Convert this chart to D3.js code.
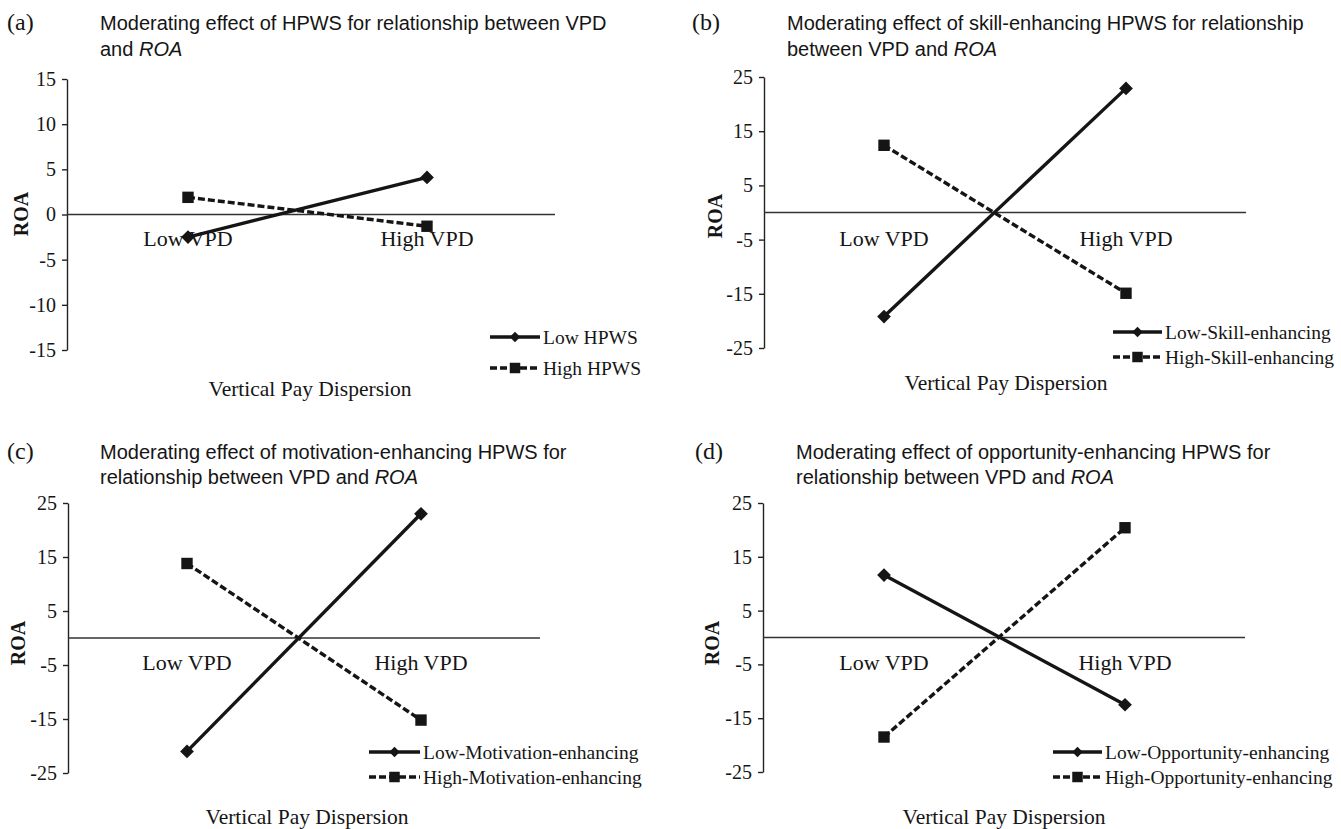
<!DOCTYPE html>
<html><head><meta charset="utf-8">
<script src="https://cdn.jsdelivr.net/npm/d3@7"></script>
<style>
html,body{margin:0;padding:0;background:#fff;}
svg{display:block;}
</style>
</head><body>
<svg id="chart" width="1341" height="829"></svg>
<script>
// ---- data ----
const categories = ["Low VPD", "High VPD"];
const ticksA = [-15, -10, -5, 0, 5, 10, 15];
const ticksBCD = [-25, -15, -5, 5, 15, 25];

const lowHPWS = [-2.5, 4.1];
const highHPWS = [1.9, -1.3];
const lowSkill = [-19.2, 22.9];
const highSkill = [12.4, -14.9];
const lowMotivation = [-21.0, 23.0];
const highMotivation = [13.8, -15.2];
const lowOpportunity = [11.6, -12.5];
const highOpportunity = [-18.5, 20.4];

const panelLetters = ["(a)", "(b)", "(c)", "(d)"];
const titleLine1 = [
  "Moderating effect of HPWS for relationship between VPD",
  "Moderating effect of skill-enhancing HPWS for relationship",
  "Moderating effect of motivation-enhancing HPWS for",
  "Moderating effect of opportunity-enhancing HPWS for"
];
const titleLine2 = ["and ", "between VPD and ", "relationship between VPD and ", "relationship between VPD and "];
const legendLow = ["Low HPWS", "Low-Skill-enhancing", "Low-Motivation-enhancing", "Low-Opportunity-enhancing"];
const legendHigh = ["High HPWS", "High-Skill-enhancing", "High-Motivation-enhancing", "High-Opportunity-enhancing"];

// ---- layout ----
const panels = [
  {letterX:7, titleX:100, titleY:30, lineGap:26, axisX:67, yTop:79, yBot:350, domain:[-15,15], ticks:ticksA,
   xLow:188, xHigh:427, zeroEnd:555, catY:246, legX1:490, legX2:540, legY:[337,368], vpdX:310, vpdY:396, roaX:21, roaY:214,
   low:lowHPWS, high:highHPWS},
  {letterX:692, titleX:787, titleY:30, lineGap:26, axisX:764, yTop:77, yBot:348, domain:[-25,25], ticks:ticksBCD,
   xLow:884, xHigh:1126, zeroEnd:1246, catY:246, legX1:1113, legX2:1162, legY:[332,357], vpdX:1006, vpdY:390, roaX:715, roaY:216,
   low:lowSkill, high:highSkill},
  {letterX:7, titleX:100, titleY:459, lineGap:25, axisX:68, yTop:503, yBot:773, domain:[-25,25], ticks:ticksBCD,
   xLow:187, xHigh:421, zeroEnd:540, catY:670, legX1:369, legX2:420, legY:[752,777], vpdX:307, vpdY:824, roaX:18, roaY:643,
   low:lowMotivation, high:highMotivation},
  {letterX:695, titleX:796, titleY:459, lineGap:25, axisX:763, yTop:503, yBot:772, domain:[-25,25], ticks:ticksBCD,
   xLow:884, xHigh:1125, zeroEnd:1245, catY:670, legX1:1053, legX2:1102, legY:[752,777], vpdX:1004, vpdY:824, roaX:712, roaY:643,
   low:lowOpportunity, high:highOpportunity}
];

const svg = d3.select("#chart");
const serif = "'Liberation Serif','Times New Roman',serif";
const sans = "'Liberation Sans',Arial,sans-serif";
const diamond = d3.symbol().type(d3.symbolDiamond2).size(120);
const square = d3.symbol().type(d3.symbolSquare).size(130);
const diamondSmall = d3.symbol().type(d3.symbolDiamond2).size(70);
const squareSmall = d3.symbol().type(d3.symbolSquare).size(110);
const ink = "#151515";

panels.forEach((p, i) => {
  const g = svg.append("g");
  const y = d3.scaleLinear().domain(p.domain).range([p.yBot, p.yTop]);
  const x = d3.scalePoint().domain(categories).range([p.xLow, p.xHigh]);

  // panel letter & title
  g.append("text").attr("x", p.letterX).attr("y", p.titleY)
    .attr("font-family", serif).attr("font-size", 24).attr("fill", ink).text(panelLetters[i]);
  g.append("text").attr("x", p.titleX).attr("y", p.titleY)
    .attr("font-family", sans).attr("font-size", 20).attr("fill", ink).text(titleLine1[i]);
  const t2 = g.append("text").attr("x", p.titleX).attr("y", p.titleY + p.lineGap)
    .attr("font-family", sans).attr("font-size", 20).attr("fill", ink);
  t2.append("tspan").text(titleLine2[i]);
  t2.append("tspan").attr("font-style", "italic").text("ROA");

  // y axis
  const axis = d3.axisLeft(y).tickValues(p.ticks).tickSize(5).tickPadding(6).tickSizeOuter(0)
    .tickFormat(d => d);
  const ag = g.append("g").attr("transform", `translate(${p.axisX},0)`).call(axis);
  ag.select(".domain").attr("stroke", "#222").attr("stroke-width", 1.4);
  ag.selectAll(".tick line").attr("stroke", "#222").attr("stroke-width", 1.4);
  ag.selectAll(".tick text").attr("font-family", serif).attr("font-size", 20).attr("fill", ink);

  // zero line
  g.append("line").attr("x1", p.axisX).attr("x2", p.zeroEnd).attr("y1", y(0)).attr("y2", y(0))
    .attr("stroke", "#333").attr("stroke-width", 1.4);

  // category labels
  categories.forEach(c => {
    g.append("text").attr("x", x(c)).attr("y", p.catY).attr("text-anchor", "middle")
      .attr("font-family", serif).attr("font-size", 22).attr("fill", ink).text(c);
  });

  // lines
  const line = d3.line().x((d, k) => x(categories[k])).y(d => y(d));
  g.append("path").datum(p.low).attr("d", line).attr("fill", "none").attr("stroke", ink).attr("stroke-width", 3.4);
  g.append("path").datum(p.high).attr("d", line).attr("fill", "none").attr("stroke", ink).attr("stroke-width", 3.4)
    .attr("stroke-dasharray", "7,3");
  g.selectAll(".mlow").data(p.low).enter().append("path")
    .attr("transform", (d, k) => `translate(${x(categories[k])},${y(d)})`)
    .attr("d", diamond).attr("fill", ink);
  g.selectAll(".mhigh").data(p.high).enter().append("path")
    .attr("transform", (d, k) => `translate(${x(categories[k])},${y(d)})`)
    .attr("d", square).attr("fill", ink);

  // legend
  const lm = (p.legX1 + p.legX2) / 2;
  g.append("line").attr("x1", p.legX1).attr("x2", p.legX2).attr("y1", p.legY[0]).attr("y2", p.legY[0])
    .attr("stroke", ink).attr("stroke-width", 3.4);
  g.append("path").attr("transform", `translate(${lm},${p.legY[0]})`).attr("d", diamondSmall).attr("fill", ink);
  g.append("line").attr("x1", p.legX1).attr("x2", p.legX2).attr("y1", p.legY[1]).attr("y2", p.legY[1])
    .attr("stroke", ink).attr("stroke-width", 3.4).attr("stroke-dasharray", "7,3");
  g.append("path").attr("transform", `translate(${lm},${p.legY[1]})`).attr("d", squareSmall).attr("fill", ink);
  g.append("text").attr("x", p.legX2 + 3).attr("y", p.legY[0]).attr("dy", "0.35em")
    .attr("font-family", serif).attr("font-size", 19.5).attr("fill", ink).text(legendLow[i]);
  g.append("text").attr("x", p.legX2 + 3).attr("y", p.legY[1]).attr("dy", "0.35em")
    .attr("font-family", serif).attr("font-size", 19.5).attr("fill", ink).text(legendHigh[i]);

  // axis titles
  g.append("text").attr("x", p.vpdX).attr("y", p.vpdY).attr("text-anchor", "middle")
    .attr("font-family", serif).attr("font-size", 21.5).attr("fill", ink).text("Vertical Pay Dispersion");
  g.append("text").attr("transform", `translate(${p.roaX},${p.roaY}) rotate(-90)`).attr("text-anchor", "middle")
    .attr("dy", "0.35em").attr("font-family", serif).attr("font-weight", "bold").attr("font-size", 20)
    .attr("fill", ink).text("ROA");
});
</script>
</body></html>
